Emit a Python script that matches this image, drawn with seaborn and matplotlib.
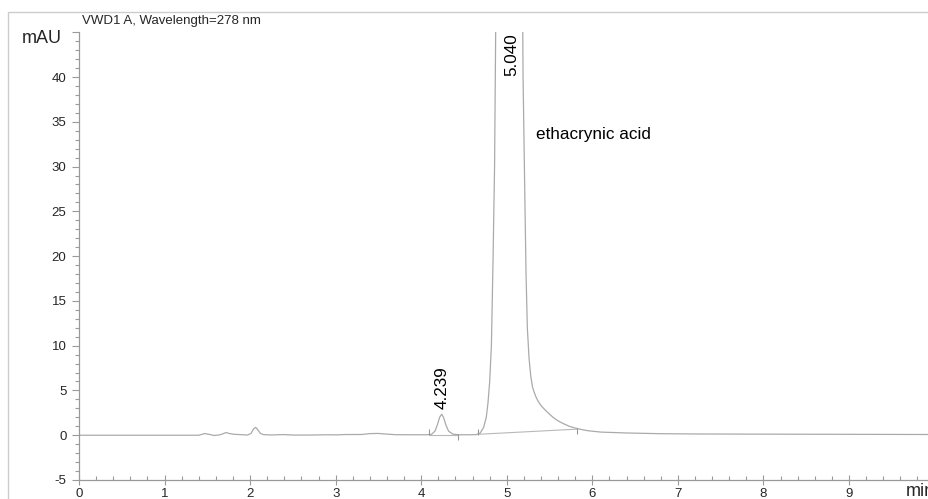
import matplotlib
matplotlib.use("Agg")
import matplotlib.pyplot as plt
from matplotlib.patches import Rectangle
from matplotlib.ticker import MultipleLocator, FuncFormatter
import seaborn as sns
import pandas as pd

# ---- data ----
time_min = [0.0, 1.40, 1.47, 1.53, 1.58, 1.65, 1.72, 1.76, 1.82, 1.90, 1.97, 2.01,
            2.04, 2.065, 2.09, 2.12, 2.16, 2.25, 2.39, 2.50, 2.70, 2.90, 3.01, 3.12,
            3.30, 3.40, 3.50, 3.56, 3.70, 3.90, 4.05, 4.12, 4.16, 4.19, 4.215, 4.239,
            4.26, 4.29, 4.32, 4.37, 4.45, 4.55, 4.64, 4.69, 4.73, 4.76, 4.78, 4.80,
            4.82, 4.84, 4.857, 4.870, 4.90, 4.96, 5.04, 5.10, 5.15, 5.17, 5.19, 5.215,
            5.225, 5.24, 5.26, 5.28, 5.30, 5.32, 5.34, 5.36, 5.40, 5.45, 5.50, 5.54,
            5.60, 5.66, 5.73, 5.80, 5.88, 5.95, 6.10, 6.40, 6.80, 7.20, 8.00, 9.00, 10.0]
signal_mau = [0.0, 0.0, 0.19, 0.08, -0.03, 0.05, 0.30, 0.18, 0.10, 0.06, 0.02, 0.20,
              0.70, 0.88, 0.60, 0.20, 0.06, 0.03, 0.07, 0.02, 0.02, 0.05, 0.04, 0.08,
              0.08, 0.18, 0.20, 0.15, 0.06, 0.05, 0.05, 0.10, 0.45, 1.20, 2.00, 2.35,
              2.00, 1.10, 0.45, 0.12, 0.05, 0.05, 0.06, 0.25, 0.90, 2.00, 3.60, 6.00,
              10.0, 20.0, 30.0, 45.0, 95.0, 210.0, 320.0, 240.0, 110.0, 70.0, 40.0, 24.0,
              18.0, 12.0, 8.6, 6.6, 5.4, 4.8, 4.3, 3.9, 3.3, 2.8, 2.35, 2.0,
              1.6, 1.3, 1.0, 0.8, 0.62, 0.5, 0.35, 0.25, 0.17, 0.14, 0.12, 0.10, 0.08]

# integration baselines: (start time, start value, end time, end value)
bl_start_t = [4.09, 4.66]
bl_start_v = [0.06, 0.10]
bl_end_t = [4.43, 5.82]
bl_end_v = [0.06, 0.68]

peak_rt = [4.239, 5.040]
peak_label = ["4.239", "5.040"]
compound_name = "ethacrynic acid"

title = "VWD1 A, Wavelength=278 nm"
y_unit = "mAU"
x_unit = "min"

# ---- figure ----
sns.set_theme(style="white")
plt.rcParams["font.family"] = ["Liberation Sans", "DejaVu Sans"]
plt.rcParams["axes.unicode_minus"] = False

W, H = 929, 499
fig = plt.figure(figsize=(W / 100, H / 100), dpi=100)
ax = fig.add_axes([79 / W, 19 / H, 855.6 / W, 447.75 / H])

trace_color = "#aaaaaa"
axis_color = "#9a9a9a"

df = pd.DataFrame({"t": time_min, "s": signal_mau})
sns.lineplot(data=df, x="t", y="s", ax=ax, color=trace_color, linewidth=0.9,
             estimator=None, sort=False)

for ts, vs, te, ve in zip(bl_start_t, bl_start_v, bl_end_t, bl_end_v):
    ax.plot([ts, te], [vs, ve], color="#b8b8b8", linewidth=0.8)
    ax.plot([ts], [vs + 0.25], marker="|", markersize=4, color="#999999", mew=0.8)
    ax.plot([te], [ve - 0.25], marker="|", markersize=4, color="#999999", mew=0.8)

ax.set_xlim(0, 10)
ax.set_ylim(-5, 45)
ax.set_xlabel("")
ax.set_ylabel("")

ax.xaxis.set_major_locator(MultipleLocator(1))
ax.xaxis.set_minor_locator(MultipleLocator(0.2))
ax.yaxis.set_major_locator(MultipleLocator(5))
ax.yaxis.set_minor_locator(MultipleLocator(1))
ax.yaxis.set_major_formatter(FuncFormatter(lambda v, p: "" if v > 42 else f"{v:.0f}"))
ax.xaxis.set_major_formatter(FuncFormatter(lambda v, p: "" if v > 9.5 else f"{v:.0f}"))

for side in ["top", "right"]:
    ax.spines[side].set_visible(False)
for side in ["left", "bottom"]:
    ax.spines[side].set_color(axis_color)
    ax.spines[side].set_linewidth(0.9)

ax.tick_params(axis="x", which="major", direction="inout", length=7, width=0.8,
               color=axis_color, labelsize=9.5, pad=2, bottom=True)
ax.tick_params(axis="x", which="minor", direction="in", length=3, width=0.8,
               color=axis_color, bottom=True)
ax.tick_params(axis="y", which="major", direction="out", length=5, width=0.8,
               color=axis_color, labelsize=9.5, pad=4, left=True)
ax.tick_params(axis="y", which="minor", direction="out", length=3, width=0.8,
               color=axis_color, left=True)

# peak labels
ax.text(peak_rt[0], 2.95, peak_label[0], rotation=90, ha="center", va="bottom",
        fontsize=12.3, color="black")
ax.text(peak_rt[1] + 0.02, 44.9, peak_label[1], rotation=90, ha="center", va="top",
        fontsize=12.3, color="black")
ax.text(5.34, 33.6, compound_name, ha="left", va="center", fontsize=12.3, color="black")

# figure texts
fig.text(82 / W, (H - 21) / H, title, ha="left", va="center", fontsize=9.5)
fig.text(22 / W, (H - 43) / H, y_unit, ha="left", va="baseline", fontsize=13)
fig.text(906 / W, 2.5 / H, x_unit, ha="left", va="baseline", fontsize=13)

# outer frame
fig.add_artist(Rectangle((8 / W, -0.2), 1.5, (H - 12) / H + 0.2,
                         transform=fig.transFigure, fill=False,
                         edgecolor="#cccccc", linewidth=1.0))

fig.savefig("out.png", dpi=100)
